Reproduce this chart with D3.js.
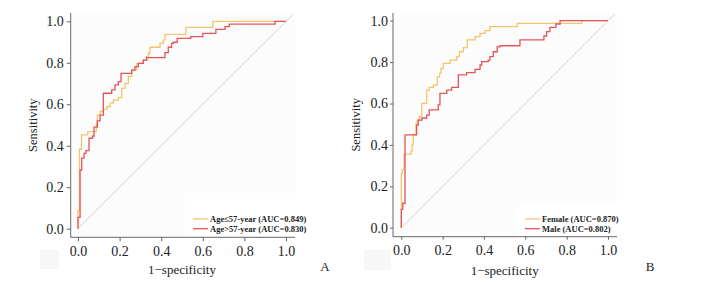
<!DOCTYPE html>
<html><head><meta charset="utf-8">
<script src="https://cdn.jsdelivr.net/npm/d3@7"></script>
<style>
html,body{margin:0;padding:0;background:#fff;}
svg{display:block;}
text{font-family:"Liberation Serif","Times New Roman",serif;fill:#222;}
</style></head>
<body><svg id="c" width="704" height="284"></svg>
<script>
// ---- Data ----
const tickValues = [0, 0.2, 0.4, 0.6, 0.8, 1.0];
const panelLabels = ["A", "B"];
const legendA = ["Age\u226457-year (AUC=0.849)", "Age>57-year (AUC=0.830)"];
const legendB = ["Female (AUC=0.870)", "Male (AUC=0.802)"];

// ROC points [1-specificity, sensitivity]; drawn as steps (horizontal, then vertical)
const ageLE57 = [[0,0],[0,0.087],[0.007,0.383],[0.017,0.452],[0.047,0.468],[0.088,0.505],[0.093,0.548],[0.106,0.565],[0.122,0.575],[0.138,0.588],[0.154,0.605],[0.17,0.62],[0.194,0.632],[0.21,0.677],[0.226,0.70],[0.242,0.733],[0.258,0.765],[0.282,0.797],[0.314,0.813],[0.33,0.829],[0.338,0.846],[0.346,0.875],[0.394,0.894],[0.41,0.91],[0.418,0.937],[0.519,0.971],[0.648,1.0],[1,1]];
const ageGT57 = [[0,0],[0,0.055],[0.01,0.283],[0.018,0.34],[0.029,0.363],[0.038,0.376],[0.053,0.436],[0.07,0.447],[0.077,0.49],[0.093,0.52],[0.106,0.548],[0.122,0.653],[0.162,0.669],[0.178,0.693],[0.194,0.709],[0.207,0.749],[0.258,0.765],[0.274,0.781],[0.29,0.797],[0.314,0.813],[0.33,0.825],[0.418,0.849],[0.434,0.875],[0.45,0.894],[0.458,0.899],[0.477,0.918],[0.542,0.926],[0.6,0.942],[0.663,0.961],[0.707,0.974],[0.727,0.986],[0.947,1.0],[1,1]];
const female = [[0,0],[0,0.263],[0.005,0.279],[0.013,0.355],[0.047,0.371],[0.053,0.403],[0.058,0.448],[0.071,0.504],[0.077,0.52],[0.087,0.536],[0.099,0.601],[0.123,0.665],[0.135,0.678],[0.155,0.689],[0.174,0.729],[0.185,0.746],[0.192,0.77],[0.203,0.794],[0.236,0.81],[0.268,0.826],[0.281,0.85],[0.30,0.87],[0.319,0.907],[0.357,0.923],[0.381,0.939],[0.405,0.952],[0.429,0.971],[0.561,0.987],[0.873,1.0],[1,1]];
const male = [[0,0],[0,0.089],[0.007,0.118],[0.018,0.448],[0.074,0.496],[0.082,0.52],[0.10,0.53],[0.123,0.544],[0.135,0.569],[0.179,0.593],[0.187,0.649],[0.22,0.665],[0.244,0.678],[0.276,0.738],[0.316,0.749],[0.357,0.765],[0.381,0.786],[0.389,0.802],[0.421,0.81],[0.429,0.826],[0.445,0.85],[0.464,0.874],[0.477,0.879],[0.574,0.907],[0.69,0.926],[0.703,0.947],[0.719,0.968],[0.748,0.984],[0.768,1.0],[1,1]];

const YELLOW = "#f2c66d", RED = "#e5535b";

const panels = [
  {x0:78, x1:286, y0:228.7, y1:21.3, axL:70.7, axB:237.3, axR:295, axT:13,
   series:[ageLE57, ageGT57], legend:legendA, label:panelLabels[0],
   legX:193, legY:219, legBg:[185,193,110,44], ylabX:33, xlabY:274, labX:325, labY:271,
   tick:4, pad:3, sq:[40,250,19,19]},
  {x0:401.3, x1:608, y0:227.7, y1:20.7, axL:393, axB:236.7, axR:617, axT:13,
   series:[female, male], legend:legendB, label:panelLabels[1],
   legX:525, legY:219, legBg:[517,205,100,31], ylabX:356, xlabY:275, labX:650, labY:271,
   tick:3, pad:2, sq:[364,250,27,20]}
];

const svg = d3.select("#c");

panels.forEach(p => {
  const x = d3.scaleLinear().domain([0,1]).range([p.x0, p.x1]);
  const y = d3.scaleLinear().domain([0,1]).range([p.y0, p.y1]);
  const g = svg.append("g");

  // faint background
  g.append("rect").attr("x", p.axL+1).attr("y", p.axT).attr("width", p.axR-p.axL-1).attr("height", p.axB-p.axT-1).attr("fill","#fcfcfc");
  g.append("rect").attr("x", p.legBg[0]).attr("y", p.legBg[1]).attr("width", p.legBg[2]).attr("height", p.legBg[3]).attr("fill","#fff");
  g.append("rect").attr("x", p.sq[0]).attr("y", p.sq[1]).attr("width", p.sq[2]).attr("height", p.sq[3]).attr("fill","#f7f7f7");

  // diagonal reference
  const dEnd = x.invert(p.axR - 2);
  g.append("line").attr("x1", x(0)).attr("y1", y(0)).attr("x2", x(dEnd)).attr("y2", y(dEnd))
    .attr("stroke","#d6d6d6").attr("stroke-width",1);

  // curves
  const line = d3.line().x(d=>x(d[0])).y(d=>y(d[1])).curve(d3.curveStepAfter);
  [YELLOW, RED].forEach((c,i) => {
    g.append("path").datum(p.series[i]).attr("d", line).attr("fill","none")
      .attr("stroke", c).attr("stroke-width",1.3);
  });

  // axes
  const ax = g.append("g").attr("transform",`translate(${p.axL},0)`)
    .call(d3.axisLeft(y).tickValues(tickValues).tickFormat(d3.format(".1f")).tickSize(p.tick).tickPadding(p.pad));
  const bx = g.append("g").attr("transform",`translate(0,${p.axB})`)
    .call(d3.axisBottom(x).tickValues(tickValues).tickFormat(d3.format(".1f")).tickSize(p.tick).tickPadding(5));
  [ax,bx].forEach(a => {
    a.select(".domain").remove();
    a.selectAll(".tick line").attr("stroke","#666");
    a.selectAll(".tick text").style("font-size","14px").attr("fill","#222");
  });
  g.append("line").attr("x1",p.axL).attr("x2",p.axL).attr("y1",p.axT).attr("y2",p.axB).attr("stroke","#666").attr("stroke-width",1);
  g.append("line").attr("x1",p.axL).attr("x2",p.axR).attr("y1",p.axB).attr("y2",p.axB).attr("stroke","#666").attr("stroke-width",1);

  // axis titles
  g.append("text").attr("transform",`translate(${p.ylabX},${(p.axT+p.axB)/2}) rotate(-90)`)
    .attr("text-anchor","middle").attr("dominant-baseline","central").style("font-size","12.5px").text("Sensitivity");
  g.append("text").attr("x", x(0.5)).attr("y", p.xlabY).attr("text-anchor","middle")
    .style("font-size","13px").text("1\u2212specificity");
  g.append("text").attr("x", p.labX).attr("y", p.labY).attr("text-anchor","middle")
    .style("font-size","13px").text(p.label);

  // legend
  p.legend.forEach((t,i) => {
    const ly = p.legY + i*9.7;
    g.append("line").attr("x1", p.legX).attr("x2", p.legX+15).attr("y1", ly).attr("y2", ly)
      .attr("stroke", i===0?YELLOW:RED).attr("stroke-width",1.3);
    g.append("text").attr("x", p.legX+17).attr("y", ly).attr("dominant-baseline","central")
      .style("font-size","8.5px").style("font-weight","bold").attr("fill","#333").text(t);
  });
});
</script></body></html>
